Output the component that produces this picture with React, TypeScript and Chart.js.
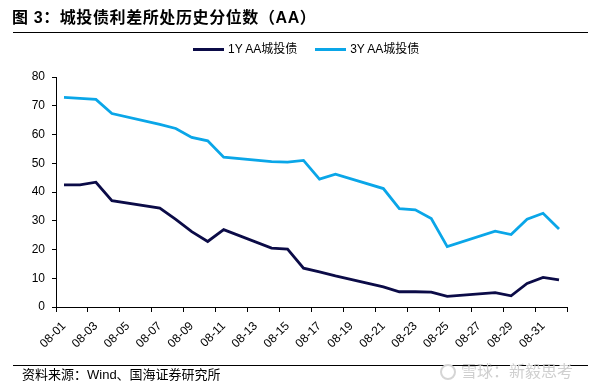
import React, { useEffect, useRef } from "react";
import { Chart, registerables } from "chart.js";

Chart.register(...registerables);

const dates = [
  "08-01", "08-02", "08-03", "08-04", "08-05", "08-06", "08-07", "08-08",
  "08-09", "08-10", "08-11", "08-12", "08-13", "08-14", "08-15", "08-16",
  "08-17", "08-18", "08-19", "08-20", "08-21", "08-22", "08-23", "08-24",
  "08-25", "08-26", "08-27", "08-28", "08-29", "08-30", "08-31", "09-01",
];

const series1Y: (number | null)[] = [
  42.5, 42.5, 43.4, 37.0, null, null, 34.4, 30.5,
  26.2, 22.8, 26.9, null, null, 20.5, 20.1, 13.5,
  12.2, 10.8, null, null, 7.0, 5.3, 5.3, 5.2,
  3.7, null, null, 5.0, 3.9, 8.2, 10.3, 9.4,
];

const series3Y: (number | null)[] = [
  72.9, 72.6, 72.2, 67.3, null, null, 63.5, 62.1,
  59.0, 57.8, 52.1, null, null, 50.6, 50.4, 51.0,
  44.5, 46.2, null, null, 41.2, 34.2, 33.8, 30.8,
  21.0, null, null, 26.4, 25.2, 30.5, 32.6, 27.1,
];

const seriesNames = ["1Y AA城投债", "3Y AA城投债"];
const seriesColors = ["#0B0B47", "#0AA6E8"];
const yTicks = { min: 0, max: 80, step: 10 };

const titleText = "图 3：城投债利差所处历史分位数（AA）";
const sourceText = "资料来源：Wind、国海证券研究所";
const watermarkText = "雪球：新毅思考";

export default function App() {
  const ref = useRef<HTMLCanvasElement | null>(null);

  useEffect(() => {
    if (!ref.current) return;
    const chart = new Chart(ref.current, {
      type: "line",
      data: {
        labels: dates,
        datasets: [
          {
            label: seriesNames[0],
            data: series1Y,
            borderColor: seriesColors[0],
            backgroundColor: seriesColors[0],
            borderWidth: 2.8,
            pointRadius: 0,
            tension: 0,
            spanGaps: true,
          },
          {
            label: seriesNames[1],
            data: series3Y,
            borderColor: seriesColors[1],
            backgroundColor: seriesColors[1],
            borderWidth: 2.8,
            pointRadius: 0,
            tension: 0,
            spanGaps: true,
          },
        ],
      },
      options: {
        responsive: false,
        animation: false,
        layout: { padding: { top: 77, right: 30, left: 0, bottom: 0 } },
        plugins: {
          legend: { display: false },
          tooltip: { enabled: false },
        },
        scales: {
          x: {
            type: "category",
            offset: true,
            afterFit: (s: any) => {
              s.height = 77;
            },
            border: { display: true, color: "#000", width: 1 },
            grid: {
              offset: true,
              drawOnChartArea: false,
              drawTicks: true,
              tickLength: 5,
              tickColor: (ctx: any) =>
                ctx.index === undefined || ctx.index % 2 === 0 ? "#000" : "rgba(0,0,0,0)",
            },
            ticks: {
              autoSkip: false,
              maxRotation: 45,
              minRotation: 45,
              padding: 7,
              color: "#000",
              font: { family: "'Liberation Sans', Arial, sans-serif", size: 12 },
              callback: (_v: any, i: number) => (i % 2 === 0 ? dates[i] : ""),
            },
          },
          y: {
            min: yTicks.min,
            max: yTicks.max,
            afterFit: (s: any) => {
              s.width = 56;
            },
            border: { display: true, color: "#000", width: 1 },
            grid: {
              drawOnChartArea: false,
              drawTicks: true,
              tickLength: 4,
              tickColor: "#000",
            },
            ticks: {
              stepSize: yTicks.step,
              padding: 7,
              color: "#000",
              font: { family: "'Liberation Sans', Arial, sans-serif", size: 12 },
            },
          },
        },
      },
    });
    return () => chart.destroy();
  }, []);

  const legendItem = (name: string, color: string) => (
    <div style={{ display: "flex", alignItems: "center", marginRight: 18 }}>
      <div style={{ width: 31, height: 3, background: color, marginRight: 4 }} />
      <span>{name}</span>
    </div>
  );

  return (
    <div
      style={{
        position: "absolute",
        left: 0,
        top: 0,
        width: 597,
        height: 384,
        background: "#fff",
        overflow: "hidden",
        fontFamily: "'Liberation Sans', Arial, 'Noto Sans CJK SC', sans-serif",
      }}
    >
      <canvas ref={ref} width={597} height={384} style={{ position: "absolute", left: 0, top: 0 }} />
      <div
        style={{
          position: "absolute",
          left: 12,
          top: 8,
          fontSize: 16,
          fontWeight: 700,
          fontFamily: "'Liberation Sans', Arial, 'Noto Sans CJK SC', sans-serif",
          lineHeight: "20px",
          whiteSpace: "nowrap",
          color: "#000",
          letterSpacing: 0.6,
        }}
      >
        {titleText}
      </div>
      <div style={{ position: "absolute", left: 13, top: 32, width: 575, height: 1, background: "#000" }} />
      <div
        style={{
          position: "absolute",
          left: 193,
          top: 41,
          display: "flex",
          fontSize: 12,
          lineHeight: "16px",
          whiteSpace: "nowrap",
          color: "#000",
        }}
      >
        {legendItem(seriesNames[0], seriesColors[0])}
        {legendItem(seriesNames[1], seriesColors[1])}
      </div>
      <div style={{ position: "absolute", left: 13, top: 365, width: 575, height: 1, background: "#000" }} />
      <div
        style={{
          position: "absolute",
          left: 22,
          top: 367,
          fontSize: 13,
          lineHeight: "16px",
          whiteSpace: "nowrap",
          color: "#000",
        }}
      >
        {sourceText}
      </div>
      <div
        style={{
          position: "absolute",
          left: 440,
          top: 362,
          fontSize: 16,
          lineHeight: "20px",
          whiteSpace: "nowrap",
          color: "#cfcfcf",
          display: "flex",
          alignItems: "center",
        }}
      >
        <div
          style={{
            width: 16,
            height: 16,
            borderRadius: 8,
            border: "2px solid #d5d5d5",
            marginRight: 5,
            boxSizing: "border-box",
          }}
        />
        <span>{watermarkText}</span>
      </div>
    </div>
  );
}
